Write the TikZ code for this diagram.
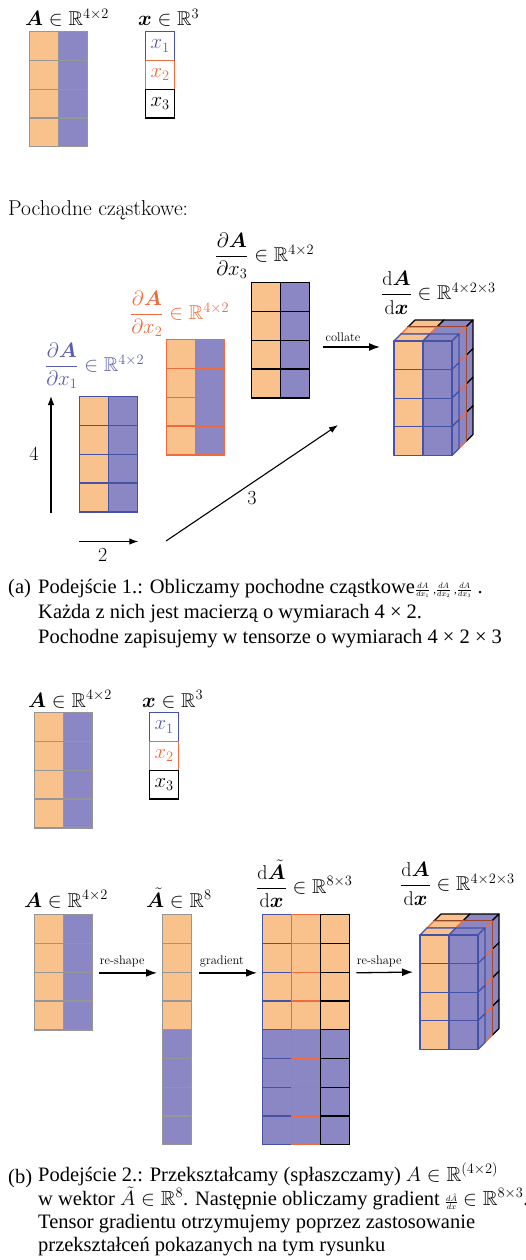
\documentclass[tikz,border=0pt]{standalone}
\usepackage{amsmath}
\usepackage{amssymb}
\usepackage{bm}
\usepackage{fontspec}
\newfontfamily\capfont{Liberation Serif}
\usetikzlibrary{
    arrows.meta,
    positioning,
    calc
}
\definecolor{CellOrange}{HTML}{F9C28D}
\definecolor{CellPurple}{HTML}{8A87C4}
\definecolor{EdgeBlue}{HTML}{4552A6}
\definecolor{EdgeOrange}{HTML}{EE6B3D}
\definecolor{EdgeGray}{HTML}{969696}
\definecolor{TextBlue}{HTML}{5C5CAC}
\tikzset{
    cell/.style={
        rectangle,
        anchor=north west,
        minimum width=29pt,
        minimum height=28.8pt,
        inner sep=0pt,
        line width=1.3pt,
    },
    ocell/.style={cell, fill=CellOrange},
    pcell/.style={cell, fill=CellPurple},
    wcell/.style={cell, fill=white, font=\fontsize{20}{24}\selectfont},
    cubeface/.style={line width=1.2pt, line join=round},
    mlabel/.style={font=\fontsize{20}{24}\selectfont, inner sep=0pt},
    tag/.style={font=\fontsize{12.5}{14}\selectfont, inner sep=0pt},
    flow/.style={
        -{Latex[length=11pt,width=8pt]},
        line width=1.3pt,
    },
    dim/.style={
        -{Latex[length=9pt,width=6.5pt]},
        line width=1.1pt,
    },
    caption/.style={
        font=\capfont\fontsize{20.5}{25}\selectfont,
        inner sep=0pt,
        anchor=base west,
        align=left,
    },
}

\begin{document}
\begin{tikzpicture}[x=1pt, y=-1pt]
    \useasboundingbox (0,0) rectangle (526,1260);

    % 4x2 matrices
    \foreach \nm/\mx/\my/\ec in {tA/29/31/EdgeGray, bA0/34/712/EdgeGray, aM1/79/396/EdgeBlue,
        aM2/166/339/EdgeOrange, aM3/251/282/black, bA/34/914/EdgeGray} {
        \foreach \r in {0,...,3} {
            \node[ocell, draw=\ec] (\nm-\r-0) at (\mx, {\my+28.8*\r}) {};
            \node[pcell, draw=\ec] (\nm-\r-1) at ({\mx+29}, {\my+28.8*\r}) {};
        }
    }

    % vectors x
    \foreach \nm/\mx/\my in {tx/145/31, bx/149/712} {
        \node[wcell, draw=EdgeBlue, text=TextBlue] (\nm-1) at (\mx, \my) {$x_1$};
        \node[wcell, draw=EdgeOrange, text=EdgeOrange] (\nm-2) at (\mx, {\my+28.8}) {$x_2$};
        \node[wcell, draw=black] (\nm-3) at (\mx, {\my+57.6}) {$x_3$};
    }

    \node[mlabel, anchor=base west] (tA-lbl) at (25,26) {$\bm{A}\in\mathbb{R}^{4\times2}$};
    \node[mlabel, anchor=base west] (tx-lbl) at (138,26) {$\bm{x}\in\mathbb{R}^{3}$};
    \node[mlabel, anchor=base west] (bA0-lbl) at (28,707) {$\bm{A}\in\mathbb{R}^{4\times2}$};
    \node[mlabel, anchor=base west] (bx-lbl) at (142,707) {$\bm{x}\in\mathbb{R}^{3}$};

    \node[mlabel, anchor=base west, font=\fontsize{21.5}{25}\selectfont] (pochodne) at (8,215) {Pochodne cząstkowe:};

    % podejscie 1
    \node[mlabel, anchor=west, text=TextBlue] (aM1-lbl) at (45,366)
        {$\dfrac{\partial\bm{A}}{\partial x_1}\in\mathbb{R}^{4\times2}$};
    \node[mlabel, anchor=west, text=EdgeOrange] (aM2-lbl) at (130,314)
        {$\dfrac{\partial\bm{A}}{\partial x_2}\in\mathbb{R}^{4\times2}$};
    \node[mlabel, anchor=west] (aM3-lbl) at (215,256)
        {$\dfrac{\partial\bm{A}}{\partial x_3}\in\mathbb{R}^{4\times2}$};
    \node[mlabel, anchor=west] (aT-lbl) at (381,293)
        {$\dfrac{\mathrm{d}\bm{A}}{\mathrm{d}\bm{x}}\in\mathbb{R}^{4\times2\times3}$};

    \draw[dim] ([xshift=-28pt]aM1-3-0.south west) -- ([xshift=-28pt]aM1-0-0.north west)
        node[midway, left=12pt, mlabel] (dim4) {4};
    \draw[dim] ([yshift=-29pt]aM1-3-0.south west) -- ([yshift=-29pt]aM1-3-1.south east)
        node[pos=0.4, below=6pt, mlabel] (dim2) {2};
    \coordinate (depth-start) at (166,541);
    \coordinate (depth-end) at (338,425);
    \draw[dim] (depth-start) -- (depth-end)
        node[midway, below=8pt, mlabel] (dim3) {3};

    \coordinate (collate-start) at (323,347);
    \coordinate (collate-end) at (380,347);
    \draw[flow] (collate-start) -- (collate-end)
        node[at start, anchor=south west, xshift=2pt, yshift=5pt, tag] (collate) {collate};

    % podejscie 2
    \foreach \r in {0,...,3} {
        \node[ocell, draw=EdgeGray] (bAt-\r-0) at (162, {914+28.75*\r}) {};
    }
    \foreach \r in {4,...,7} {
        \node[pcell, draw=EdgeGray] (bAt-\r-0) at (162, {914+28.75*\r}) {};
    }
    \foreach \c/\ec in {0/EdgeBlue, 1/EdgeOrange, 2/black} {
        \foreach \r in {0,...,3} {
            \node[ocell, draw=\ec] (bG-\r-\c) at ({262+29*\c}, {914+28.75*\r}) {};
        }
        \foreach \r in {4,...,7} {
            \node[pcell, draw=\ec] (bG-\r-\c) at ({262+29*\c}, {914+28.75*\r}) {};
        }
    }

    \node[mlabel, anchor=base west] (bA-lbl) at (24,907) {$\bm{A}\in\mathbb{R}^{4\times2}$};
    \node[mlabel, anchor=base west] (bAt-lbl) at (146,907) {$\tilde{\bm{A}}\in\mathbb{R}^{8}$};
    \node[mlabel, anchor=west] (bG-lbl) at (256,884)
        {$\dfrac{\mathrm{d}\tilde{\bm{A}}}{\mathrm{d}\bm{x}}\in\mathbb{R}^{8\times3}$};
    \node[mlabel, anchor=west] (bT-lbl) at (400,884)
        {$\dfrac{\mathrm{d}\bm{A}}{\mathrm{d}\bm{x}}\in\mathbb{R}^{4\times2\times3}$};

    % tensors 4x2x3
    \foreach \cx/\cy in {394/341, 420/935} {
        \foreach \k/\ec in {2/black, 1/EdgeOrange, 0/EdgeBlue} {
            \begin{scope}[shift={({\cx+7*\k},{\cy-7*\k})}]
                \filldraw[cubeface, fill=CellOrange, draw=\ec] (0,0) -- (29,0) -- (36,-7) -- (7,-7) -- cycle;
                \filldraw[cubeface, fill=CellPurple, draw=\ec] (29,0) -- (58,0) -- (65,-7) -- (36,-7) -- cycle;
                \foreach \r in {0,...,3} {
                    \filldraw[cubeface, fill=CellPurple, draw=\ec] (58,{28.6*\r}) -- (65,{28.6*\r-7})
                        -- (65,{28.6*\r+21.6}) -- (58,{28.6*(\r+1)}) -- cycle;
                    \filldraw[cubeface, fill=CellOrange, draw=\ec] (0,{28.6*\r}) rectangle (29,{28.6*(\r+1)});
                    \filldraw[cubeface, fill=CellPurple, draw=\ec] (29,{28.6*\r}) rectangle (58,{28.6*(\r+1)});
                }
            \end{scope}
        }
    }
    \coordinate (bT-west) at (420,972);

    \draw[flow, shorten <=6pt, shorten >=5pt] (bA-1-1.south east) -- (bA-1-1.south east -| bAt-1-0.west)
        node[at start, anchor=south west, xshift=6pt, yshift=5pt, tag] (reshape1) {re-shape};
    \draw[flow, shorten <=7pt, shorten >=5pt] (bAt-1-0.south east) -- (bAt-1-0.south east -| bG-1-0.west)
        node[at start, anchor=south west, xshift=7pt, yshift=5pt, tag] (gradient) {gradient};
    \draw[flow, shorten <=6pt, shorten >=7pt] (bG-1-2.south east) -- (bT-west)
        node[at start, anchor=south west, xshift=6pt, yshift=5pt, tag] (reshape2) {re-shape};

    % podpisy
    \node[caption] (capa-tag) at (8,593) {(a)};
    \node[caption] (capa) at (38,643) {Podejście 1.: Obliczamy pochodne cząstkowe{\fontsize{11}{12}\selectfont$\frac{dA}{dx_1}$ ,$\frac{dA}{dx_2}$ ,$\frac{dA}{dx_3}$} .\\
        Każda z nich jest macierzą o wymiarach 4 × 2.\\
        Pochodne zapisujemy w tensorze o wymiarach 4 × 2 × 3};
    \node[caption] (capb-tag) at (8,1183) {(b)};
    \node[caption, font=\capfont\fontsize{20.5}{22.8}\selectfont] (capb) at (38,1251) {Podejście 2.: Przekształcamy (spłaszczamy) $A\in\mathbb{R}^{(4\times2)}$\\
        w wektor $\tilde{A}\in\mathbb{R}^{8}$. Następnie obliczamy gradient {\fontsize{11}{12}\selectfont$\frac{d\tilde{A}}{dx}$} $\in\mathbb{R}^{8\times3}$.\\
        Tensor gradientu otrzymujemy poprzez zastosowanie\\
        przekształceń pokazanych na tym rysunku};
\end{tikzpicture}
\end{document}
